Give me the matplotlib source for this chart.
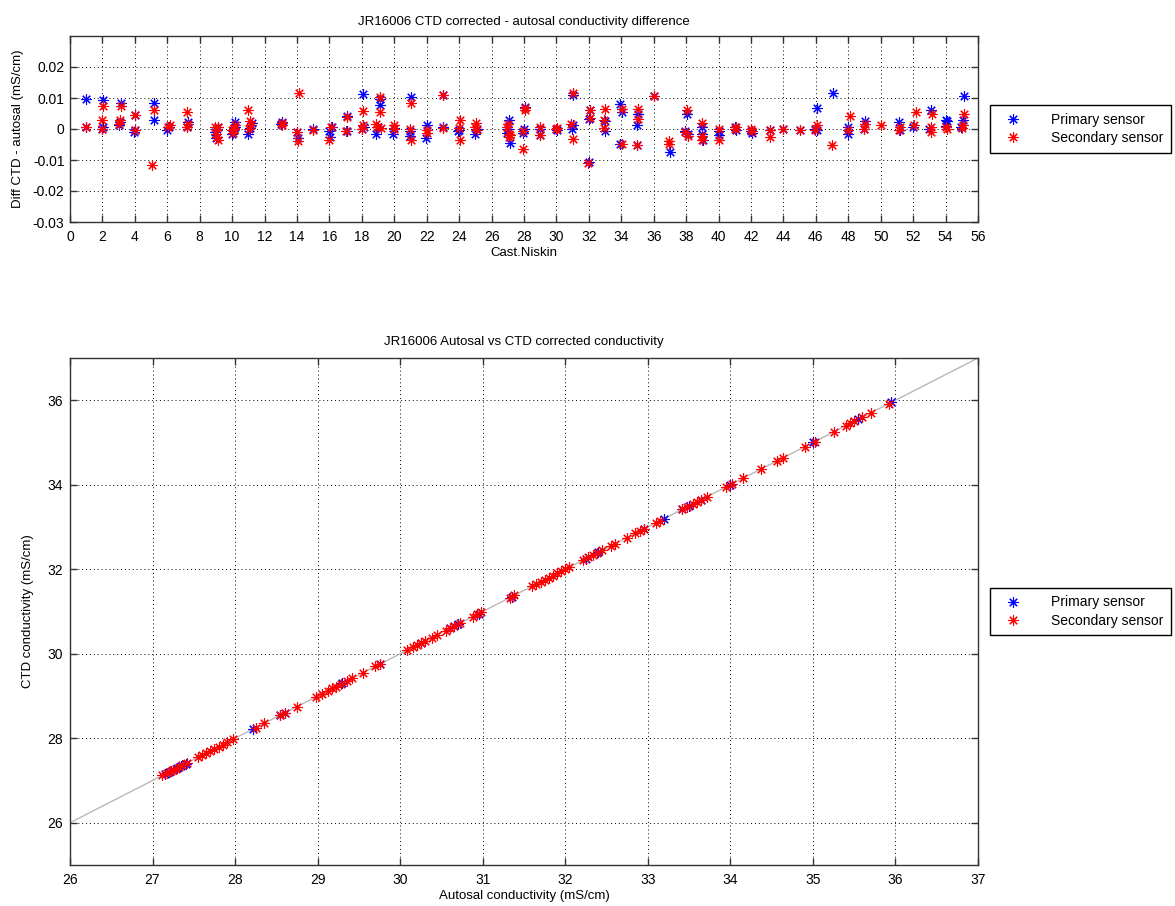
import numpy as np
import matplotlib
matplotlib.use('Agg')
import matplotlib.pyplot as plt

plt.rcParams['font.family'] = ['Liberation Sans', 'DejaVu Sans']

# --- top panel: CTD - autosal difference against cast.niskin ---
cast_p = [1.0, 1.0, 2.05, 2.0, 2.05, 3.15, 3.0, 3.1, 4.0, 3.95, 4.0, 5.2, 5.2, 6.0, 6.1,
          7.25, 7.2, 8.95, 9.05, 9.1, 9.0, 10.15, 10.0, 10.1, 10.2, 11.0, 11.2, 11.1,
          13.1, 13.0, 14.0, 14.05, 15.0, 15.95, 16.05, 16.15, 17.1, 17.1, 18.05, 18.0,
          18.15, 19.12, 19.12, 18.9, 19.0, 19.95, 20.0, 21.03, 20.95, 21.0, 22.0, 21.95,
          23.02, 23.0, 23.95, 24.0, 25.0, 25.1, 27.05, 27.15, 26.95, 27.0, 28.05, 27.95,
          28.0, 29.0, 29.0, 30.0, 30.05, 31.05, 30.95, 31.0, 32.05, 31.98, 32.0, 33.0,
          33.0, 33.95, 34.05, 33.9, 35.05, 35.0, 35.0, 36.0, 37.0, 38.05, 37.95, 38.1,
          39.0, 39.0, 39.05, 40.0, 40.05, 41.0, 41.05, 42.0, 42.05, 43.2, 44.0, 45.05,
          46.05, 46.05, 45.95, 47.05, 48.0, 48.0, 49.05, 49.0, 51.15, 51.2, 52.0, 53.1,
          53.0, 54.0, 54.1, 54.05, 55.15, 55.05, 54.95]
diff_p = [0.0098, 0.0005, 0.0095, 0.0, 0.0006, 0.0084, 0.0013, 0.0022, 0.0046, -0.001,
          -0.0002, 0.0083, 0.0029, -0.0004, 0.0008, 0.0023, 0.0005, -0.001, -0.0025,
          0.0005, -0.003, 0.0022, -0.0015, 0.0003, 0.0008, -0.0017, 0.002, 0.0004,
          0.0022, 0.0015, -0.001, -0.003, -0.0001, -0.0008, -0.0025, 0.0005, 0.0042,
          -0.0005, 0.0112, -0.0001, 0.0005, 0.0098, 0.0079, -0.0015, 0.0005, -0.0015,
          0.0002, 0.0103, -0.0008, -0.0024, 0.0012, -0.003, 0.011, 0.0005, -0.0008,
          -0.0003, -0.0017, 0.0, 0.003, -0.0045, -0.0012, 0.0, 0.007, -0.0013, 0.0,
          -0.0018, 0.0, 0.0, -0.0003, 0.011, 0.0, 0.0012, 0.0062, -0.0108, 0.0033,
          -0.0008, 0.0027, 0.0081, 0.0055, -0.0047, 0.005, 0.0013, -0.0053, 0.0106,
          -0.0073, 0.005, -0.0008, -0.0015, 0.0006, -0.0017, -0.0035, -0.0005, -0.0018,
          0.0005, -0.0002, -0.0005, -0.0012, -0.0004, 0.0, -0.0002, 0.0069, -0.0004,
          0.0, 0.0116, 0.0007, -0.0017, 0.0026, 0.0, 0.0023, -0.0004, 0.0007, 0.0062,
          0.0001, 0.003, 0.0026, 0.001, 0.0105, 0.003, 0.0006]

cast_s = [1.0, 2.05, 2.0, 2.0, 3.15, 3.05, 3.1, 4.0, 4.0, 5.15, 5.05, 6.05, 6.15, 7.2,
          7.2, 7.25, 8.95, 9.0, 9.05, 9.1, 9.15, 10.0, 10.1, 10.2, 10.05, 11.0, 11.15,
          11.1, 11.05, 13.05, 13.1, 14.1, 14.0, 14.05, 15.0, 16.0, 16.1, 17.1, 17.0,
          18.1, 18.05, 18.0, 19.1, 19.1, 18.85, 18.95, 19.15, 20.0, 20.0, 21.05, 21.0,
          21.05, 22.0, 22.0, 23.0, 23.0, 24.05, 24.0, 24.05, 25.05, 25.0, 25.1, 26.95,
          27.05, 27.1, 27.15, 27.0, 28.05, 28.05, 27.95, 27.95, 29.0, 29.0, 30.0, 30.05,
          31.05, 30.9, 31.0, 32.05, 32.05, 31.95, 33.0, 32.95, 32.95, 34.05, 34.05,
          35.05, 35.05, 34.95, 36.0, 36.95, 36.95, 38.05, 37.95, 38.1, 39.0, 39.0, 39.0,
          40.0, 40.05, 41.05, 41.0, 42.0, 42.05, 43.2, 43.2, 44.0, 45.0, 46.05, 45.95,
          47.0, 48.1, 48.0, 49.05, 49.0, 50.0, 51.2, 51.15, 52.15, 52.05, 53.15, 53.1,
          53.1, 54.0, 54.1, 55.15, 55.05, 55.0]
diff_s = [0.0005, 0.0073, 0.003, 0.0, 0.0073, 0.0017, 0.0028, 0.0044, -0.0002, 0.0062,
          -0.0115, 0.0006, 0.0012, 0.0055, 0.0006, 0.0015, 0.0005, -0.0015, -0.0025,
          -0.0036, 0.0008, -0.0004, 0.0, 0.0013, -0.0013, 0.006, 0.0012, 0.0027, 0.0,
          0.0018, 0.0013, 0.0116, -0.001, -0.004, -0.0002, -0.0037, 0.0007, 0.004,
          -0.0005, 0.0059, 0.0012, 0.0, 0.0103, 0.0055, 0.0017, 0.0006, 0.0004, 0.0012,
          0.0, 0.0084, 0.0001, -0.0037, -0.0002, -0.0014, 0.011, 0.0004, 0.003, 0.0002,
          -0.0037, 0.0019, 0.0006, -0.0002, 0.0006, -0.0015, -0.0025, -0.002, 0.0015,
          0.0069, 0.006, -0.0006, -0.0063, 0.0006, -0.0018, -0.0001, 0.0003, 0.0116,
          0.0015, -0.0031, 0.0062, 0.0036, -0.011, 0.0065, 0.003, 0.0002, 0.0065,
          -0.0047, 0.0065, 0.0033, -0.0053, 0.0105, -0.004, -0.0047, 0.006, -0.001,
          -0.0024, 0.0019, -0.0024, -0.0037, 0.0, -0.0034, 0.0006, 0.0, 0.0, -0.0006,
          -0.0004, -0.0026, 0.0, -0.0003, 0.0012, -0.0002, -0.005, 0.0041, -0.0004,
          0.0017, 0.0001, 0.0012, 0.0006, -0.0004, 0.0055, 0.0012, 0.005, 0.0006, -0.001,
          0.0006, 0.0, 0.005, 0.0012, 0.0003]

diff_yticks = [-0.03, -0.02, -0.01, 0, 0.01, 0.02]
diff_yticklabels = ['-0.03', '-0.02', '-0.01', '0', '0.01', '0.02']

# --- bottom panel: autosal vs CTD conductivity ---
autosal_p = [27.15, 27.2, 27.25, 27.3, 27.35, 27.4, 28.22, 28.55, 28.6, 29.3, 29.75, 30.25,
             30.6, 30.65, 30.7, 30.95, 31.35, 32.25, 32.4, 32.95, 33.2, 33.42, 33.5,
             33.65, 34.0, 35.0, 35.55, 35.95]
ctd_p = [27.15, 27.2, 27.25, 27.3, 27.35, 27.4, 28.22, 28.55, 28.6, 29.3, 29.75, 30.25,
         30.6, 30.65, 30.7, 30.95, 31.35, 32.25, 32.4, 32.95, 33.2, 33.42, 33.5,
         33.65, 34.0, 35.0, 35.55, 35.95]

autosal_s = [27.12, 27.18, 27.22, 27.25, 27.28, 27.32, 27.36, 27.42, 27.55, 27.6, 27.65,
             27.7, 27.75, 27.8, 27.85, 27.9, 27.98, 28.25, 28.35, 28.55, 28.6, 28.75,
             28.98, 29.05, 29.12, 29.18, 29.22, 29.28, 29.35, 29.42, 29.55, 29.7, 29.75,
             30.08, 30.15, 30.2, 30.25, 30.3, 30.38, 30.45, 30.55, 30.6, 30.65, 30.72,
             30.88, 30.93, 30.98, 31.33, 31.38, 31.6, 31.65, 31.7, 31.75, 31.8, 31.85,
             31.9, 31.95, 32.0, 32.05, 32.22, 32.28, 32.33, 32.38, 32.45, 32.55, 32.6,
             32.75, 32.85, 32.9, 32.95, 33.1, 33.15, 33.42, 33.48, 33.55, 33.6, 33.65,
             33.72, 33.95, 34.02, 34.15, 34.37, 34.57, 34.64, 34.9, 35.02, 35.25, 35.4,
             35.45, 35.5, 35.6, 35.7, 35.92]
ctd_s = [27.12, 27.18, 27.22, 27.25, 27.28, 27.32, 27.36, 27.42, 27.55, 27.6, 27.65,
         27.7, 27.75, 27.8, 27.85, 27.9, 27.98, 28.25, 28.35, 28.55, 28.6, 28.75,
         28.98, 29.05, 29.12, 29.18, 29.22, 29.28, 29.35, 29.42, 29.55, 29.7, 29.75,
         30.08, 30.15, 30.2, 30.25, 30.3, 30.38, 30.45, 30.55, 30.6, 30.65, 30.72,
         30.88, 30.93, 30.98, 31.33, 31.38, 31.6, 31.65, 31.7, 31.75, 31.8, 31.85,
         31.9, 31.95, 32.0, 32.05, 32.22, 32.28, 32.33, 32.38, 32.45, 32.55, 32.6,
         32.75, 32.85, 32.9, 32.95, 33.1, 33.15, 33.42, 33.48, 33.55, 33.6, 33.65,
         33.72, 33.95, 34.02, 34.15, 34.37, 34.57, 34.64, 34.9, 35.02, 35.25, 35.4,
         35.45, 35.5, 35.6, 35.7, 35.92]

one_to_one = [26, 37]

# style
star = (8, 2, 0)
mkw = dict(linestyle='none', marker=star, markersize=7.5, markeredgewidth=0.8)
grid_kw = dict(color='black', linestyle=(0, (1, 3)), linewidth=0.7)
leg_kw = dict(loc='center left', bbox_to_anchor=(1.006, 0.5), fancybox=False,
              edgecolor='black', framealpha=1, fontsize=10, handlelength=2.1,
              handletextpad=1.7, borderpad=0.55, labelspacing=0.3, borderaxespad=0.5)


def style_axes(ax):
    ax.tick_params(direction='in', top=True, right=True, length=5, width=1,
                   labelsize=10, color='#333333', pad=6)
    for s in ax.spines.values():
        s.set_linewidth(1.0)
        s.set_color('#333333')
    ax.grid(True, **grid_kw)
    ax.set_axisbelow(True)


fig = plt.figure(figsize=(11.75, 9.06), dpi=100)
W, H = 1175, 906

# top axes
ax1 = fig.add_axes([70 / W, 1 - 222 / H, 908 / W, 186 / H])
ax1.plot(cast_p, diff_p, color='blue', label='Primary sensor', **mkw)
ax1.plot(cast_s, diff_s, color='red', label='Secondary sensor', **mkw)
ax1.set_xlim(0, 56)
ax1.set_ylim(-0.03, 0.03)
ax1.set_xticks(np.arange(0, 57, 2))
ax1.set_yticks(diff_yticks)
ax1.set_yticklabels(diff_yticklabels)
style_axes(ax1)
ax1.tick_params(axis='y', pad=4)
ax1.set_title('JR16006 CTD corrected - autosal conductivity difference', fontsize=9.5, pad=8)
ax1.set_xlabel('Cast.Niskin', fontsize=9.5, labelpad=2)
ax1.set_ylabel('Diff CTD - autosal (mS/cm)', fontsize=9.5, labelpad=6)
ax1.legend(**leg_kw)

# bottom axes
ax2 = fig.add_axes([70 / W, 1 - 865 / H, 908 / W, 507 / H])
ax2.plot(one_to_one, one_to_one, color='#b8b8b8', linewidth=1.0, zorder=1)
ax2.plot(autosal_p, ctd_p, color='blue', label='Primary sensor', zorder=2, **mkw)
ax2.plot(autosal_s, ctd_s, color='red', label='Secondary sensor', zorder=3, **mkw)
ax2.set_xlim(26, 37)
ax2.set_ylim(25, 37)
ax2.set_xticks(np.arange(26, 38, 1))
ax2.set_yticks(np.arange(26, 37, 2))
style_axes(ax2)
ax2.tick_params(axis='y', pad=5)
ax2.set_title('JR16006 Autosal vs CTD corrected conductivity', fontsize=9.5, pad=9)
ax2.set_xlabel('Autosal conductivity (mS/cm)', fontsize=9.5, labelpad=2)
ax2.set_ylabel('CTD conductivity (mS/cm)', fontsize=9.5, labelpad=10)
ax2.legend(**leg_kw)

fig.savefig('out.png', dpi=100)
